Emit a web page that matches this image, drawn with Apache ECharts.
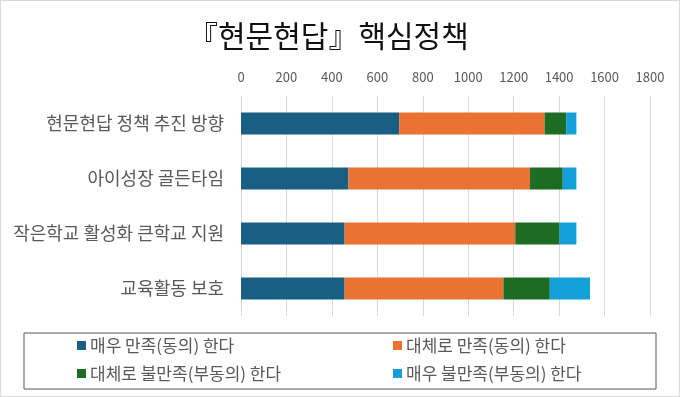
<!DOCTYPE html>
<html>
<head>
<meta charset="utf-8">
<script src="https://cdn.jsdelivr.net/npm/echarts@6/dist/echarts.min.js"></script>
<style>
  html, body { margin: 0; padding: 0; background: #fff; }
  #chart {
    width: 680px;
    height: 397px;
    box-sizing: border-box;
    border: 1px solid #d9d9d9;
  }
</style>
</head>
<body>
<div id="chart"></div>
<script>
// 항목 (위에서 아래 순서)
var categories = ['현문현답 정책 추진 방향', '아이성장 골든타임', '작은학교 활성화 큰학교 지원', '교육활동 보호'];
var seriesNames = ['매우 만족(동의) 한다', '대체로 만족(동의) 한다', '대체로 불만족(부동의) 한다', '매우 불만족(부동의) 한다'];
var veryGood = [696, 473, 456, 456];
var good = [640, 799, 751, 699];
var bad = [95, 144, 195, 204];
var veryBad = [45, 60, 74, 177];
var colors = ['#195e83', '#ea7233', '#1e6b24', '#13a0d8'];

var font = '"Noto Sans CJK KR", "Noto Sans", sans-serif';
var myChart = echarts.init(document.getElementById('chart'));

var values = [veryGood, good, bad, veryBad];
var series = values.map(function (v, i) {
  return {
    name: seriesNames[i],
    type: 'bar',
    stack: 'total',
    barWidth: 22,
    itemStyle: { color: colors[i] },
    data: v
  };
});

// 범례 위치 (2x2)
var legendPos = [[76, 336], [392, 336], [76, 364], [392, 364]];
var legends = seriesNames.map(function (n, i) {
  return {
    data: [n],
    left: legendPos[i][0],
    top: legendPos[i][1],
    icon: 'rect',
    itemWidth: 9,
    itemHeight: 9,
    itemGap: 4,
    padding: 0,
    selectedMode: false,
    textStyle: { fontFamily: font, fontSize: 17, color: '#595959', padding: [0, 0, 0, -1] }
  };
});

var option = {
  animation: false,
  backgroundColor: '#fff',
  title: {
    text: '『현문현답』핵심정책',
    left: 182,
    top: 15,
    textStyle: { fontFamily: font, fontSize: 30, fontWeight: 'normal', color: '#111' }
  },
  legend: legends,
  grid: { left: 240, right: 29, top: 95, bottom: 80 },
  xAxis: {
    type: 'value',
    position: 'top',
    min: 0,
    max: 1800,
    interval: 200,
    axisLine: { show: false },
    axisTick: { show: false },
    axisLabel: {
      fontFamily: font, fontSize: 13, color: '#595959', margin: 12,
      formatter: function (v) { return String(v); }
    },
    splitLine: { lineStyle: { color: '#d9d9d9', width: 1 } }
  },
  yAxis: {
    type: 'category',
    inverse: true,
    data: categories,
    axisLine: { show: false },
    axisTick: { show: false },
    axisLabel: { fontFamily: font, fontSize: 18, color: '#595959', margin: 17 }
  },
  graphic: [{
    type: 'rect',
    shape: { x: 23, y: 332, width: 632, height: 56 },
    style: { fill: 'none', stroke: '#595959', lineWidth: 1 },
    silent: true
  }],
  series: series
};

myChart.setOption(option);
window.addEventListener('resize', function () {
  myChart.resize();
});
</script>
</body>
</html>
